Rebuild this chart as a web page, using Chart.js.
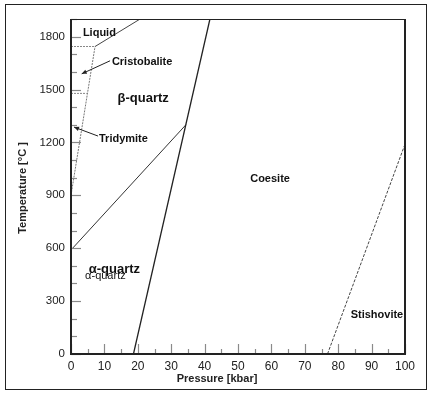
<!DOCTYPE html>
<html><head><meta charset="utf-8">
<script src="https://cdn.jsdelivr.net/npm/chart.js@4/dist/chart.umd.min.js"></script>
<style>html,body{margin:0;padding:0;background:#fff;}#wrap{width:434px;height:396px;position:relative}</style>
</head><body><div id="wrap"><canvas id="c" width="434" height="396"></canvas></div>
<script>
// ---- data (pressure in kbar, temperature in °C) ----
const pressureTickLabels = [0,10,20,30,40,50,60,70,80,90,100];
const temperatureTickLabels = [0,300,600,900,1200,1500,1800];

const quartzCoesiteP = [18.7, 41.6];
const quartzCoesiteT = [0, 1900];
const coesiteStishoviteP = [76.8, 100];
const coesiteStishoviteT = [0, 1190];
const alphaBetaQuartzP = [0, 34.4];
const alphaBetaQuartzT = [590, 1300];
const liquidusP = [7.2, 20.7];
const liquidusT = [1744, 1900];
const quartzSilicaP = [0, 7.2];
const quartzSilicaT = [900, 1744];
const cristobaliteMeltP = [0, 7.2];
const cristobaliteMeltT = [1744, 1744];
const tridymiteCristobaliteP = [0, 4.7];
const tridymiteCristobaliteT = [1478, 1478];

const phaseNames = ['Liquid','Cristobalite','β-quartz','Tridymite','Coesite','α-quartz','α-quartz','Stishovite'];
const phaseP =     [8.5, 21.3, 21.6, 15.7, 59.6, 13.0, 10.3, 91.6];
const phaseT =     [1822, 1657, 1452, 1219, 994, 478, 440, 222];
const phaseFont =  ['bold 11px','bold 11px','bold 13px','bold 11px','bold 11px','bold 13px','11px','bold 11px'];

const arrowFromP = [11.7, 8.1];
const arrowFromT = [1663, 1236];
const arrowToP = [3.2, 0.9];
const arrowToT = [1589, 1287];

function pts(P, T){ return P.map((p,i)=>({x:p, y:T[i]})); }
const FONT = '"Liberation Sans", Arial, sans-serif';

const lineDs = (label, P, T, color, width, dash) => ({
  label, data: pts(P,T), showLine:true, borderColor:color, borderWidth:width,
  borderDash: dash || [], pointRadius:0, fill:false, tension:0
});

const overlay = {
  id:'overlay',
  afterDatasetsDraw(chart){
    const {ctx, chartArea:a, scales:{x,y}} = chart;
    ctx.save();
    // inward ticks
    ctx.strokeStyle = '#8a8a8a'; ctx.lineWidth = 1.2;
    x.ticks.forEach(t=>{
      const px = Math.round(x.getPixelForValue(t.value))+0.5;
      const len = (t.value % 10 === 0) ? 10 : 5;
      ctx.beginPath(); ctx.moveTo(px, a.bottom); ctx.lineTo(px, a.bottom-len); ctx.stroke();
    });
    y.ticks.forEach(t=>{
      const py = Math.round(y.getPixelForValue(t.value))+0.5;
      const len = (t.value % 300 === 0) ? 10 : 6;
      ctx.beginPath(); ctx.moveTo(a.left, py); ctx.lineTo(a.left+len, py); ctx.stroke();
    });
    // plot frame
    ctx.strokeStyle = '#222';
    ctx.lineWidth = 1; ctx.beginPath(); ctx.moveTo(a.left, a.top+0.5); ctx.lineTo(a.right, a.top+0.5); ctx.stroke();
    ctx.lineWidth = 2;
    ctx.beginPath(); ctx.moveTo(a.left, a.top); ctx.lineTo(a.left, a.bottom); ctx.lineTo(a.right, a.bottom); ctx.lineTo(a.right, a.top); ctx.stroke();
    // arrows
    ctx.strokeStyle = '#222'; ctx.fillStyle = '#222'; ctx.lineWidth = 1;
    arrowFromP.forEach((p,i)=>{
      const x0 = x.getPixelForValue(p), y0 = y.getPixelForValue(arrowFromT[i]);
      const x1 = x.getPixelForValue(arrowToP[i]), y1 = y.getPixelForValue(arrowToT[i]);
      ctx.beginPath(); ctx.moveTo(x0,y0); ctx.lineTo(x1,y1); ctx.stroke();
      const ang = Math.atan2(y1-y0, x1-x0), L = 5, W = 2.2;
      ctx.beginPath();
      ctx.moveTo(x1,y1);
      ctx.lineTo(x1 - L*Math.cos(ang) + W*Math.sin(ang), y1 - L*Math.sin(ang) - W*Math.cos(ang));
      ctx.lineTo(x1 - L*Math.cos(ang) - W*Math.sin(ang), y1 - L*Math.sin(ang) + W*Math.cos(ang));
      ctx.closePath(); ctx.fill();
    });
    // phase labels
    ctx.fillStyle = '#111'; ctx.textAlign = 'center'; ctx.textBaseline = 'middle';
    phaseNames.forEach((n,i)=>{
      ctx.font = phaseFont[i] + ' ' + FONT;
      ctx.fillText(n, x.getPixelForValue(phaseP[i]), y.getPixelForValue(phaseT[i]));
    });
    ctx.restore();
  },
  afterDraw(chart){
    const ctx = chart.ctx;
    ctx.save();
    // outer frame
    ctx.strokeStyle = '#222'; ctx.lineWidth = 1;
    ctx.strokeRect(5.5, 4.5, 421, 385);
    // axis titles
    ctx.fillStyle = '#222'; ctx.font = 'bold 11px ' + FONT;
    ctx.textAlign = 'center'; ctx.textBaseline = 'middle';
    ctx.fillText('Pressure [kbar]', 217, 379);
    ctx.translate(23, 188); ctx.rotate(-Math.PI/2);
    ctx.fillText('Temperature [°C ]', 0, 0);
    ctx.restore();
  }
};

new Chart(document.getElementById('c'), {
  type:'scatter',
  data:{ datasets:[
    lineDs('Quartz–Coesite', quartzCoesiteP, quartzCoesiteT, '#222', 1.3),
    lineDs('Coesite–Stishovite', coesiteStishoviteP, coesiteStishoviteT, '#444', 1, [3,1.5]),
    lineDs('α–β quartz', alphaBetaQuartzP, alphaBetaQuartzT, '#333', 1),
    lineDs('Liquidus', liquidusP, liquidusT, '#444', 1),
    lineDs('Quartz–Tridymite/Cristobalite', quartzSilicaP, quartzSilicaT, '#777', 1, [2,1]),
    lineDs('Cristobalite–Liquid', cristobaliteMeltP, cristobaliteMeltT, '#888', 1, [2,1]),
    lineDs('Tridymite–Cristobalite', tridymiteCristobaliteP, tridymiteCristobaliteT, '#888', 1, [2,1])
  ]},
  options:{
    responsive:false, devicePixelRatio:1, animation:false,
    layout:{ padding:{ top:19, right:29, left:0, bottom:0 } },
    plugins:{ legend:{display:false}, tooltip:{enabled:false} },
    scales:{
      x:{ type:'linear', min:0, max:100,
        afterFit(s){ s.height = 42; },
        afterBuildTicks(s){ s.ticks = []; for(let v=0; v<=100; v+=5) s.ticks.push({value:v}); },
        grid:{ display:false, drawTicks:false }, border:{ display:false },
        ticks:{ autoSkip:false, maxRotation:0, padding:5, color:'#222',
          font:{ family:FONT, size:12 },
          callback:(v)=> pressureTickLabels.includes(v) ? String(v) : '' }
      },
      y:{ type:'linear', min:0, max:1900,
        afterFit(s){ s.width = 71; },
        afterBuildTicks(s){ s.ticks = []; for(let v=0; v<=1900; v+=100) s.ticks.push({value:v}); },
        grid:{ display:false, drawTicks:false }, border:{ display:false },
        ticks:{ autoSkip:false, padding:6, color:'#222',
          font:{ family:FONT, size:11.5 },
          callback:(v)=> temperatureTickLabels.includes(v) ? String(v) : '' }
      }
    }
  },
  plugins:[overlay]
});
</script></body></html>
